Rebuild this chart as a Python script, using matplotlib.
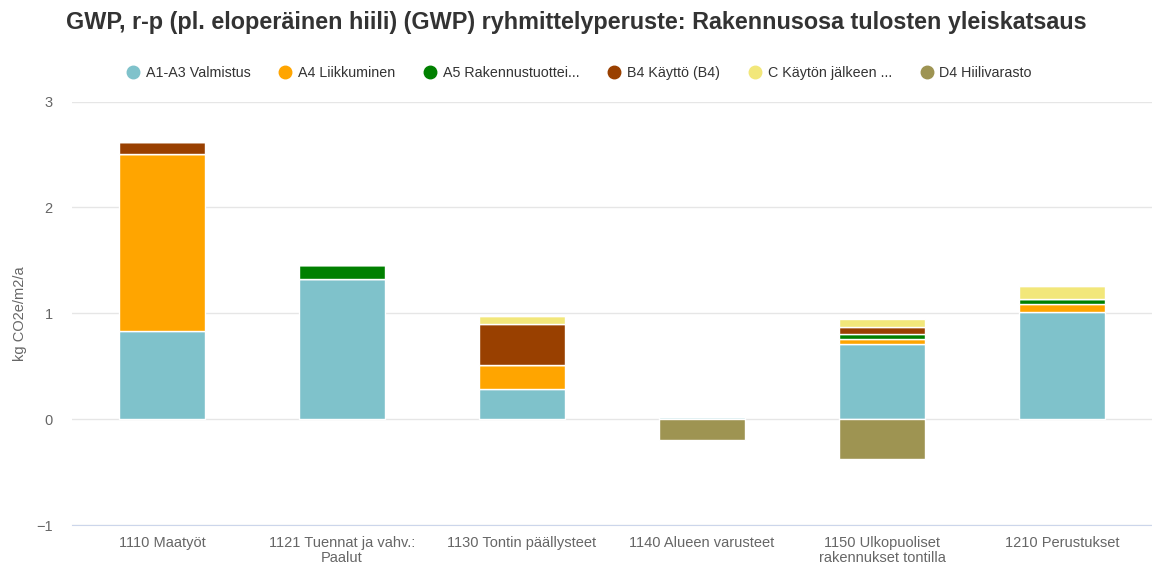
import numpy as np
import matplotlib
matplotlib.use("Agg")
import matplotlib.pyplot as plt
from matplotlib.lines import Line2D

# categories and stacked series (kg CO2e/m2/a)
categories = [
    "1110 Maatyöt",
    "1121 Tuennat ja vahv.:\nPaalut",
    "1130 Tontin päällysteet",
    "1140 Alueen varusteet",
    "1150 Ulkopuoliset\nrakennukset tontilla",
    "1210 Perustukset",
]
series_names = [
    "A1-A3 Valmistus",
    "A4 Liikkuminen",
    "A5 Rakennustuottei...",
    "B4 Käyttö (B4)",
    "C Käytön jälkeen ...",
    "D4 Hiilivarasto",
]
a1_a3 = [0.83, 1.32, 0.28, 0.02, 0.71, 1.01]
a4 = [1.67, 0.0, 0.23, 0.0, 0.05, 0.08]
a5 = [0.0, 0.14, 0.0, 0.0, 0.04, 0.045]
b4 = [0.12, 0.0, 0.39, 0.0, 0.07, 0.0]
c_stage = [0.0, 0.0, 0.07, 0.0, 0.08, 0.125]
d4 = [0.0, 0.0, 0.0, -0.20, -0.38, 0.0]

colors = ["#7fc2cb", "#ffa500", "#008000", "#994000", "#f2e77a", "#9e9452"]

plt.rcParams["font.family"] = ["Liberation Sans", "DejaVu Sans"]

fig = plt.figure(figsize=(11.52, 5.68), dpi=100)
ax = fig.add_axes([0.0625, 0.0757, 0.9375, 0.7456])

x = np.arange(len(categories))
pos_bottom = np.zeros(len(categories))
neg_bottom = np.zeros(len(categories))
for name, vals, col in zip(series_names, [a1_a3, a4, a5, b4, c_stage, d4], colors):
    vals = np.array(vals)
    bottom = np.where(vals >= 0, pos_bottom, neg_bottom)
    ax.bar(x, vals, 0.478, bottom=bottom, color=col, edgecolor="white",
           linewidth=1, zorder=3)
    pos_bottom += np.where(vals >= 0, vals, 0)
    neg_bottom += np.where(vals < 0, vals, 0)

ax.set_xlim(-0.5, len(categories) - 0.5)
ax.set_ylim(-1, 3)
ax.set_yticks([-1, 0, 1, 2, 3])
ax.set_yticklabels(["\u22121", "0", "1", "2", "3"])
ax.yaxis.grid(True, color="#e6e6e6", linewidth=1, zorder=0)
ax.set_axisbelow(True)
for s in ["top", "right", "left"]:
    ax.spines[s].set_visible(False)
ax.spines["bottom"].set_color("#ccd6eb")
ax.tick_params(axis="both", length=0, colors="#666666")
ax.tick_params(axis="y", pad=14, labelsize=10.5)
ax.set_xticks(x)
ax.set_xticklabels(categories, fontsize=10.5, color="#666666", linespacing=1.1)
ax.tick_params(axis="x", pad=8)
ax.set_ylabel("kg CO2e/m2/a", fontsize=10.5, color="#666666")
ax.yaxis.set_label_coords(-0.042, 0.5)

fig.text(0.5, 0.961, "GWP, r-p (pl. eloperäinen hiili) (GWP) ryhmittelyperuste: "
         "Rakennusosa tulosten yleiskatsaus", ha="center", va="center",
         fontsize=16.8, fontweight="bold", color="#333333")

handles = [Line2D([], [], marker="o", linestyle="", markersize=9,
                  markerfacecolor=c, markeredgecolor=c) for c in colors]
fig.legend(handles, series_names, loc="center", bbox_to_anchor=(0.502, 0.871),
           ncol=6, frameon=False, fontsize=10.3, labelcolor="#333333",
           handletextpad=0.3, columnspacing=1.82, handlelength=1.2)

fig.savefig("out.png", dpi=100, facecolor="white")
